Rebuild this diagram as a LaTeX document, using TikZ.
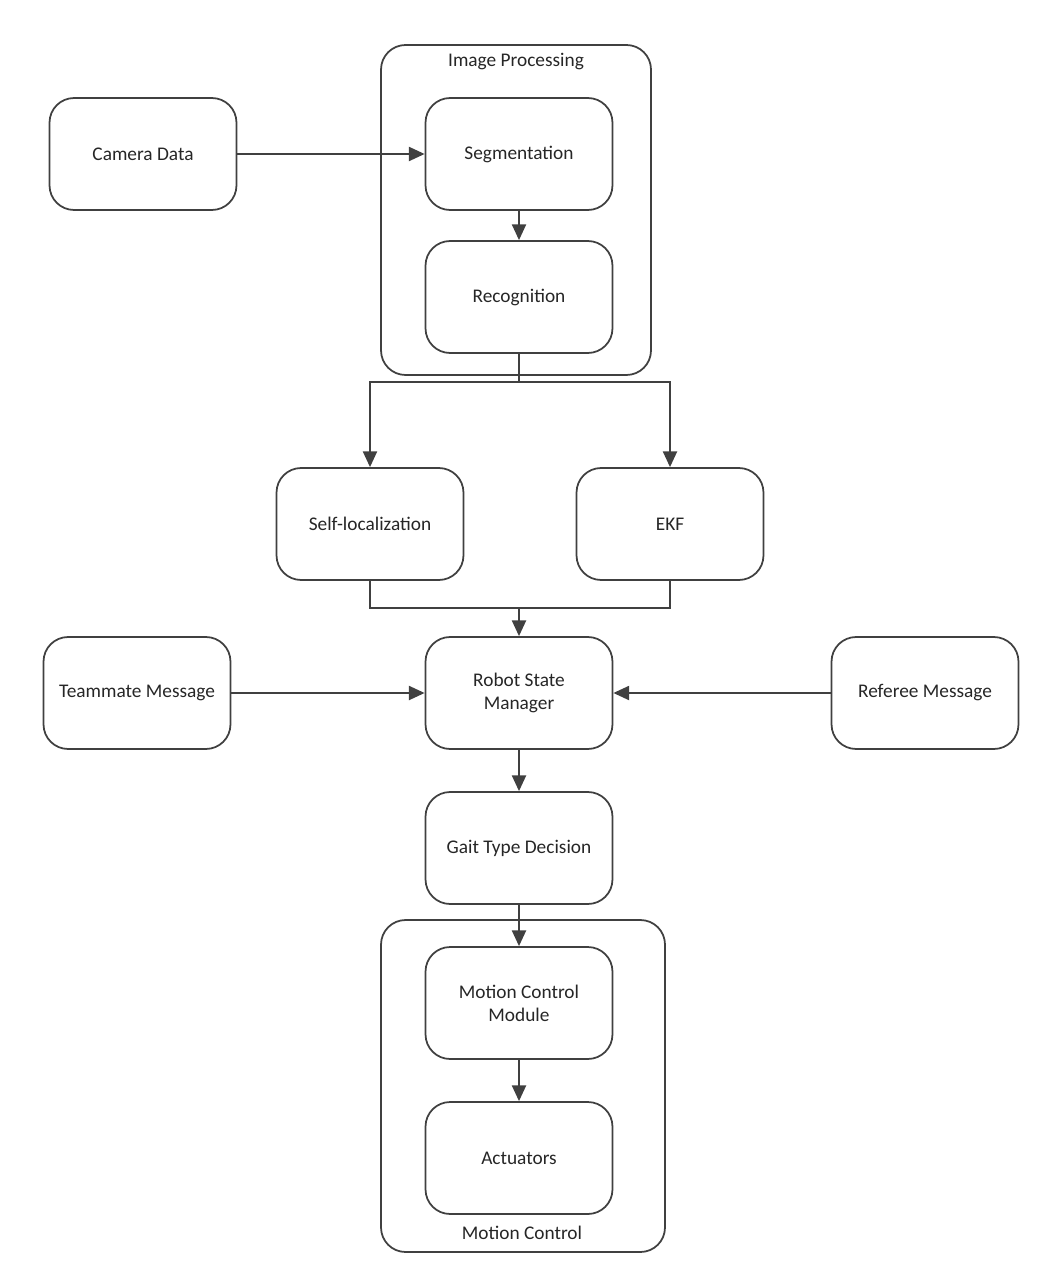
\documentclass[tikz,border=0pt]{standalone}
\usepackage{fontspec}
\setmainfont{Carlito}
\usetikzlibrary{arrows.meta, positioning}
\definecolor{linegray}{HTML}{404040}
\begin{document}
\begin{tikzpicture}[x=0.02cm,y=-0.02cm,
    font=\fontsize{11}{13}\selectfont,
    block/.style={draw=linegray,line width=1pt,rounded corners=14,minimum width=3.74cm,minimum height=2.24cm,align=center,text=black!85},
    group/.style={draw=linegray,line width=1pt,rounded corners=14},
    flow/.style={-{Triangle[length=9pt,width=8pt]},draw=linegray,line width=1.2pt}]
    \useasboundingbox (0,0) rectangle (1053,1283);
    % containers
    \draw[group] (381,45) rectangle (651,375);
    \node[text=black!85] (improc) at (516,62) {Image Processing};
    \draw[group] (381,920) rectangle (665,1252);
    \node[text=black!85] (motctl) at (522,1233) {Motion Control};
    % blocks
    \node[block] (cam) at (143,154) {Camera Data};
    \node[block] (seg) at (519,154) {Segmentation};
    \node[block] (rec) at (519,297) {Recognition};
    \node[block] (self) at (370,524) {Self-localization};
    \node[block] (ekf) at (670,524) {EKF};
    \node[block] (team) at (137,693) {Teammate Message};
    \node[block] (rsm) at (519,693) {Robot State\\Manager};
    \node[block] (ref) at (925,693) {Referee Message};
    \node[block] (gait) at (519,848) {Gait Type Decision};
    \node[block] (mcm) at (519,1003) {Motion Control\\Module};
    \node[block] (act) at (519,1158) {Actuators};
    \coordinate (split) at (519,382);
    \coordinate (join) at (519,608);
    % connectors
    \draw[flow] (cam) -- (seg);
    \draw[flow] (seg) -- (rec);
    \draw[linegray,line width=1.2pt] (rec.south) -- (split);
    \draw[flow] (split) -| (self.north);
    \draw[flow] (split) -| (ekf.north);
    \draw[linegray,line width=1.2pt] (self.south) |- (join);
    \draw[linegray,line width=1.2pt] (ekf.south) |- (join);
    \draw[flow] (join) -- (rsm);
    \draw[flow] (team) -- (rsm);
    \draw[flow] (ref) -- (rsm);
    \draw[flow] (rsm) -- (gait);
    \draw[flow] (gait) -- (mcm);
    \draw[flow] (mcm) -- (act);
\end{tikzpicture}
\end{document}
